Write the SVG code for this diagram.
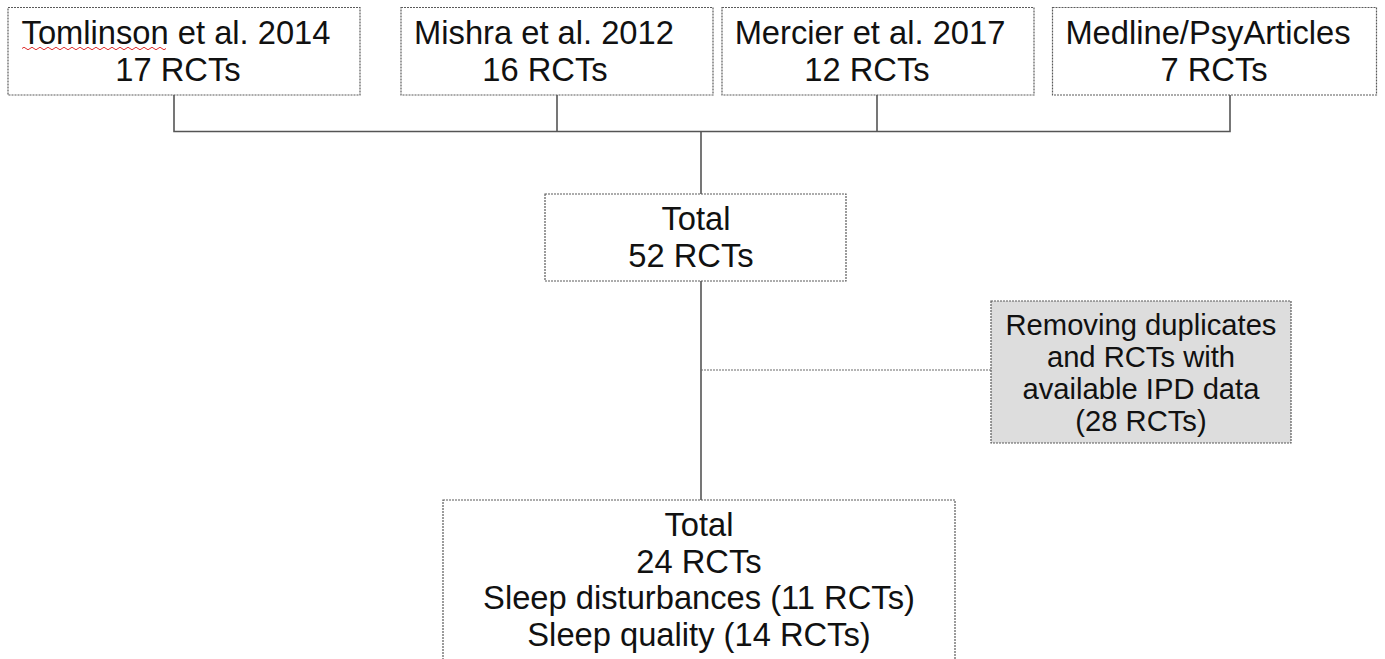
<svg xmlns="http://www.w3.org/2000/svg" width="1385" height="659" viewBox="0 0 1385 659">
<style>
.box{fill:#ffffff;stroke:#5a5a5a;stroke-width:1.2;stroke-dasharray:2 1}
.grey{fill:#dddddd;stroke:#5a5a5a;stroke-width:1.2;stroke-dasharray:2 1}
.t{font-family:"Liberation Sans",Arial,sans-serif;font-size:32.7px;fill:#111111;text-anchor:middle}
.s{font-family:"Liberation Sans",Arial,sans-serif;font-size:29.2px;fill:#111111;text-anchor:middle}
.c{fill:none;stroke:#555555;stroke-width:1.6}
.d{fill:none;stroke:#6a6a6a;stroke-width:1.2;stroke-dasharray:2 1}
</style>
<rect width="1385" height="659" fill="#ffffff"/>
<g id="connectors">
<path class="c" d="M174,95 V131.5 M557,95 V131.5 M877,95 V131.5 M1230,95 V131.5 M173.2,131.5 H1230.8 M701,131.5 V194 M701,281 V500"/>
<path class="d" d="M701,370 H991"/>
</g>
<g id="tomlinson">
<rect class="box" x="8" y="7.5" width="352" height="87.5"/>
<text class="t" x="176" y="43.5">Tomlinson et al. 2014</text>
<text class="t" x="178" y="80.5">17 RCTs</text>
<path d="M22,48.5 q2,-2.5 4,0 t4,0 t4,0 t4,0 t4,0 t4,0 t4,0 t4,0 t4,0 t4,0 t4,0 t4,0 t4,0 t4,0 t4,0 t4,0 t4,0 t4,0 t4,0 t4,0 t4,0 t4,0 t4,0 t4,0 t4,0 t4,0 t4,0 t4,0 t4,0 t4,0 t4,0 t4,0 t4,0 t4,0 t4,0 t4,0" fill="none" stroke="#e03030" stroke-width="1"/>
</g>
<g id="mishra">
<rect class="box" x="401" y="7.5" width="312" height="87.5"/>
<text class="t" x="544" y="43.5">Mishra et al. 2012</text>
<text class="t" x="545" y="80.5">16 RCTs</text>
</g>
<g id="mercier">
<rect class="box" x="722" y="7.5" width="312" height="87.5"/>
<text class="t" x="870" y="43.5">Mercier et al. 2017</text>
<text class="t" x="867" y="80.5">12 RCTs</text>
</g>
<g id="medline">
<rect class="box" x="1052.5" y="7.5" width="324" height="87.5"/>
<text class="t" x="1208" y="43.5">Medline/PsyArticles</text>
<text class="t" x="1214" y="80.5">7 RCTs</text>
</g>
<g id="total52">
<rect class="box" x="545" y="194" width="301" height="87"/>
<text class="t" x="696" y="230">Total</text>
<text class="t" x="691" y="266.5">52 RCTs</text>
</g>
<g id="removing">
<rect class="grey" x="991" y="301" width="300" height="142"/>
<text class="s" x="1141" y="335">Removing duplicates</text>
<text class="s" x="1141" y="367">and RCTs with</text>
<text class="s" x="1141" y="399">available IPD data</text>
<text class="s" x="1141" y="431">(28 RCTs)</text>
</g>
<g id="total24">
<rect class="box" x="443" y="500" width="512" height="165"/>
<text class="t" x="699" y="535.5">Total</text>
<text class="t" x="699" y="572.5">24 RCTs</text>
<text class="t" x="699" y="609">Sleep disturbances (11 RCTs)</text>
<text class="t" x="699" y="645.5">Sleep quality (14 RCTs)</text>
</g>
</svg>
